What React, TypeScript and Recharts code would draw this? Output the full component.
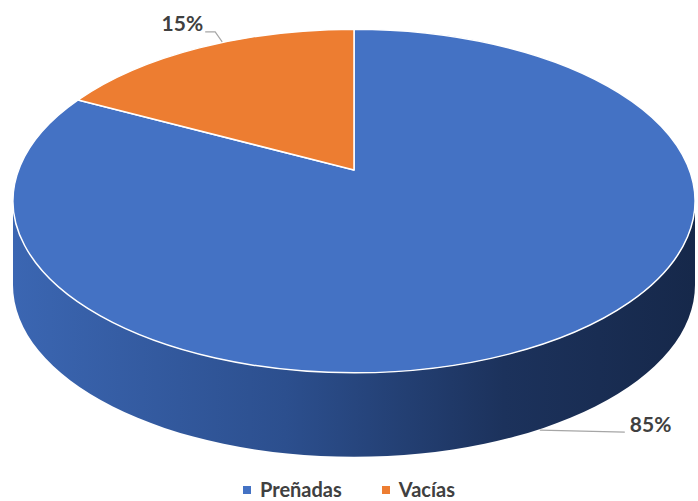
import { Cell, Legend, Pie, PieChart } from 'recharts'

// valores
const categories = ['Preñadas', 'Vacías']
const values = [85, 15]
const sliceColors = ['#4472C4', '#ED7D31']

const data = categories.map((name, i) => ({ name, value: values[i] }))

// aspecto "3D" tipo Excel: elipse aplastada + costado con degradado
const RY_RATIO = 0.504
const DEPTH = 84
const APEX_LIFT = 31
const RAD = Math.PI / 180
const TEXT = '#404040'
const FONT = 'Lato, "Open Sans", sans-serif'

function ellPt(cx: number, cy: number, rx: number, ry: number, a: number) {
  return [cx + rx * Math.cos(a * RAD), cy - ry * Math.sin(a * RAD)]
}

function Slice3D(props: any) {
  const { cx, cy, outerRadius, startAngle, endAngle, fill } = props
  const rx = outerRadius
  const ry = outerRadius * RY_RATIO
  const hi = Math.max(startAngle, endAngle)
  const lo = Math.min(startAngle, endAngle)
  const [sx, sy] = ellPt(cx, cy, rx, ry, hi)
  const [ex, ey] = ellPt(cx, cy, rx, ry, lo)
  const large = hi - lo > 180 ? 1 : 0
  const top = `M${cx},${cy - APEX_LIFT} L${sx},${sy} A${rx},${ry} 0 ${large} 1 ${ex},${ey} Z`

  // solo la mitad delantera (ángulos entre -180 y 0) tiene costado visible
  const sides: string[] = []
  for (const k of [-1, 0, 1]) {
    const a1 = Math.min(hi, 360 * k)
    const a2 = Math.max(lo, 360 * k - 180)
    if (a1 <= a2) continue
    const [p1x, p1y] = ellPt(cx, cy, rx, ry, a1)
    const [p2x, p2y] = ellPt(cx, cy, rx, ry, a2)
    const big = a1 - a2 > 180 ? 1 : 0
    sides.push(
      `M${p1x},${p1y} A${rx},${ry} 0 ${big} 1 ${p2x},${p2y} L${p2x},${p2y + DEPTH} A${rx},${ry} 0 ${big} 0 ${p1x},${p1y + DEPTH} Z`
    )
  }

  return (
    <g>
      <defs>
        <linearGradient id="side3d" gradientUnits="userSpaceOnUse" x1={cx - rx} y1={0} x2={cx + rx} y2={0}>
          <stop offset="0%" stopColor="#3B66B2" />
          <stop offset="40%" stopColor="#2C4F8E" />
          <stop offset="72%" stopColor="#1C325C" />
          <stop offset="100%" stopColor="#16284A" />
        </linearGradient>
      </defs>
      {sides.map((d, i) => (
        <path key={i} d={d} fill="url(#side3d)" />
      ))}
      <path d={top} fill={fill} stroke="#fff" strokeWidth={1.5} strokeLinejoin="round" />
    </g>
  )
}

function renderLabel(props: any) {
  const { cx, cy, midAngle, outerRadius, percent } = props
  const rx = outerRadius
  const ry = outerRadius * RY_RATIO
  const [x0, y0] = ellPt(cx, cy, rx, ry, midAngle)
  const txt = `${Math.round(percent * 100)}%`
  const front = Math.sin(midAngle * RAD) < 0

  if (front) {
    const y = y0 + DEPTH
    return (
      <g>
        <path d={`M${x0 + 31},${y - 8} L${x0 + 116},${y - 6}`} stroke="#A6A6A6" strokeWidth={1.2} fill="none" />
        <text x={x0 + 121} y={y - 6} fill={TEXT} fontFamily={FONT} fontWeight={700} fontSize={21}>
          {txt}
        </text>
      </g>
    )
  }
  return (
    <g>
      <path
        d={`M${x0 + 23},${y0 - 6} L${x0 + 16},${y0 - 16} L${x0 + 6},${y0 - 16}`}
        stroke="#A6A6A6"
        strokeWidth={1.2}
        fill="none"
      />
      <text x={x0 + 4} y={y0 - 17} textAnchor="end" fill={TEXT} fontFamily={FONT} fontWeight={700} fontSize={21}>
        {txt}
      </text>
    </g>
  )
}

function renderLegend({ payload }: any) {
  return (
    <div
      style={{
        display: 'flex',
        justifyContent: 'center',
        gap: 40,
        fontFamily: FONT,
        fontWeight: 700,
        fontSize: 20,
        lineHeight: '24px',
        color: TEXT,
      }}
    >
      {(payload || []).map((e: any, i: number) => (
        <span key={i} style={{ display: 'flex', alignItems: 'center' }}>
          <span
            style={{ width: 8, height: 8, background: e.color || sliceColors[i], marginRight: 9, marginTop: 2 }}
          />
          {e.value}
        </span>
      ))}
    </div>
  )
}

export default function App() {
  return (
    <div style={{ position: 'absolute', left: 0, top: 0, background: '#fff' }}>
      <PieChart width={698} height={501} margin={{ top: 0, right: 0, bottom: 0, left: 0 }}>
        <Pie
          data={data}
          dataKey="value"
          nameKey="name"
          cx={354}
          cy={201}
          outerRadius={341}
          startAngle={90}
          endAngle={-270}
          shape={Slice3D}
          inactiveShape={Slice3D}
          activeShape={Slice3D}
          label={renderLabel}
          labelLine={false}
          isAnimationActive={false}
        >
          {data.map((d, i) => (
            <Cell key={d.name} fill={sliceColors[i]} />
          ))}
        </Pie>
        <Legend content={renderLegend} wrapperStyle={{ top: 477, left: 0, width: 698 }} />
      </PieChart>
    </div>
  )
}
